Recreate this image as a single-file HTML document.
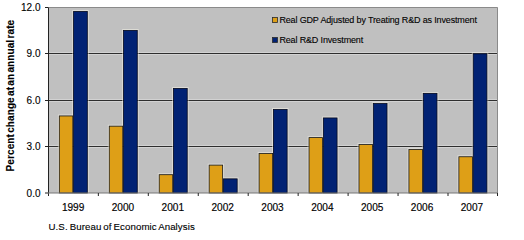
<!DOCTYPE html>
<html><head><meta charset="utf-8"><style>
html,body{margin:0;padding:0;background:#fff;width:524px;height:239px;overflow:hidden}
svg{display:block}
text{font-family:"Liberation Sans",sans-serif;fill:#000}
.lab{font-size:10px}
.yax{font-size:10px;stroke:#000;stroke-width:0.12px}
.leg{font-size:9px;letter-spacing:-0.15px;stroke:#000;stroke-width:0.1px}
.src{font-size:9.7px;letter-spacing:0.08px;word-spacing:-0.8px;stroke:#000;stroke-width:0.12px}
.yl{font-size:10.1px;stroke:#000;stroke-width:0.15px}
.title{font-size:10px;font-weight:bold;letter-spacing:0.09px;word-spacing:-1.6px;stroke:#000;stroke-width:0.1px}
</style></head><body>
<svg width="524" height="239" viewBox="0 0 524 239">
<rect x="48" y="7.5" width="450" height="185.5" fill="#C0C0C0"/>
<path d="M48 7.5H497.5V193" fill="none" stroke="#8a8a8a" stroke-width="1"/>
<line x1="48" y1="52.5" x2="497" y2="52.5" stroke="#d2d2d2" stroke-width="1"/>
<line x1="48" y1="54.5" x2="497" y2="54.5" stroke="#d2d2d2" stroke-width="1"/>
<line x1="48" y1="53.5" x2="497" y2="53.5" stroke="#2e2e2e" stroke-width="1"/>
<line x1="48" y1="99.5" x2="497" y2="99.5" stroke="#d2d2d2" stroke-width="1"/>
<line x1="48" y1="101.5" x2="497" y2="101.5" stroke="#d2d2d2" stroke-width="1"/>
<line x1="48" y1="100.5" x2="497" y2="100.5" stroke="#2e2e2e" stroke-width="1"/>
<line x1="48" y1="145.5" x2="497" y2="145.5" stroke="#d2d2d2" stroke-width="1"/>
<line x1="48" y1="147.5" x2="497" y2="147.5" stroke="#d2d2d2" stroke-width="1"/>
<line x1="48" y1="146.5" x2="497" y2="146.5" stroke="#2e2e2e" stroke-width="1"/>
<rect x="58.4" y="115.05" width="15.3" height="77.95" fill="none" stroke="#f4f0e4" stroke-opacity="0.6" stroke-width="1"/>
<rect x="72.7" y="10.56" width="15.5" height="182.44" fill="none" stroke="#f4f0e4" stroke-opacity="0.6" stroke-width="1"/>
<rect x="59.3" y="115.95" width="13.5" height="77.05" fill="#DE9F17" stroke="#1a1a1a" stroke-width="0.8"/>
<rect x="73.6" y="11.46" width="13.7" height="181.54" fill="#012274" stroke="#050a20" stroke-width="0.8"/>
<rect x="108.35" y="125.26" width="15.3" height="67.74" fill="none" stroke="#f4f0e4" stroke-opacity="0.6" stroke-width="1"/>
<rect x="122.65" y="29.57" width="15.5" height="163.43" fill="none" stroke="#f4f0e4" stroke-opacity="0.6" stroke-width="1"/>
<rect x="109.25" y="126.16" width="13.5" height="66.84" fill="#DE9F17" stroke="#1a1a1a" stroke-width="0.8"/>
<rect x="123.55" y="30.47" width="13.7" height="162.53" fill="#012274" stroke="#050a20" stroke-width="0.8"/>
<rect x="158.3" y="173.8" width="15.3" height="19.2" fill="none" stroke="#f4f0e4" stroke-opacity="0.6" stroke-width="1"/>
<rect x="172.6" y="87.54" width="15.5" height="105.46" fill="none" stroke="#f4f0e4" stroke-opacity="0.6" stroke-width="1"/>
<rect x="159.2" y="174.7" width="13.5" height="18.3" fill="#DE9F17" stroke="#1a1a1a" stroke-width="0.8"/>
<rect x="173.5" y="88.44" width="13.7" height="104.56" fill="#012274" stroke="#050a20" stroke-width="0.8"/>
<rect x="208.25" y="164.21" width="15.3" height="28.79" fill="none" stroke="#f4f0e4" stroke-opacity="0.6" stroke-width="1"/>
<rect x="222.55" y="177.97" width="15.5" height="15.03" fill="none" stroke="#f4f0e4" stroke-opacity="0.6" stroke-width="1"/>
<rect x="209.15" y="165.11" width="13.5" height="27.89" fill="#DE9F17" stroke="#1a1a1a" stroke-width="0.8"/>
<rect x="223.45" y="178.87" width="13.7" height="14.13" fill="#012274" stroke="#050a20" stroke-width="0.8"/>
<rect x="258.2" y="152.62" width="15.3" height="40.38" fill="none" stroke="#f4f0e4" stroke-opacity="0.6" stroke-width="1"/>
<rect x="272.5" y="108.56" width="15.5" height="84.44" fill="none" stroke="#f4f0e4" stroke-opacity="0.6" stroke-width="1"/>
<rect x="259.1" y="153.52" width="13.5" height="39.48" fill="#DE9F17" stroke="#1a1a1a" stroke-width="0.8"/>
<rect x="273.4" y="109.46" width="13.7" height="83.54" fill="#012274" stroke="#050a20" stroke-width="0.8"/>
<rect x="308.15" y="136.7" width="15.3" height="56.3" fill="none" stroke="#f4f0e4" stroke-opacity="0.6" stroke-width="1"/>
<rect x="322.45" y="117.06" width="15.5" height="75.94" fill="none" stroke="#f4f0e4" stroke-opacity="0.6" stroke-width="1"/>
<rect x="309.05" y="137.6" width="13.5" height="55.4" fill="#DE9F17" stroke="#1a1a1a" stroke-width="0.8"/>
<rect x="323.35" y="117.96" width="13.7" height="75.04" fill="#012274" stroke="#050a20" stroke-width="0.8"/>
<rect x="358.1" y="143.65" width="15.3" height="49.35" fill="none" stroke="#f4f0e4" stroke-opacity="0.6" stroke-width="1"/>
<rect x="372.4" y="102.69" width="15.5" height="90.31" fill="none" stroke="#f4f0e4" stroke-opacity="0.6" stroke-width="1"/>
<rect x="359.0" y="144.55" width="13.5" height="48.45" fill="#DE9F17" stroke="#1a1a1a" stroke-width="0.8"/>
<rect x="373.3" y="103.59" width="13.7" height="89.41" fill="#012274" stroke="#050a20" stroke-width="0.8"/>
<rect x="408.05" y="148.6" width="15.3" height="44.4" fill="none" stroke="#f4f0e4" stroke-opacity="0.6" stroke-width="1"/>
<rect x="422.35" y="92.48" width="15.5" height="100.52" fill="none" stroke="#f4f0e4" stroke-opacity="0.6" stroke-width="1"/>
<rect x="408.95" y="149.5" width="13.5" height="43.5" fill="#DE9F17" stroke="#1a1a1a" stroke-width="0.8"/>
<rect x="423.25" y="93.38" width="13.7" height="99.62" fill="#012274" stroke="#050a20" stroke-width="0.8"/>
<rect x="458.0" y="155.86" width="15.3" height="37.14" fill="none" stroke="#f4f0e4" stroke-opacity="0.6" stroke-width="1"/>
<rect x="472.3" y="52.91" width="15.5" height="140.09" fill="none" stroke="#f4f0e4" stroke-opacity="0.6" stroke-width="1"/>
<rect x="458.9" y="156.76" width="13.5" height="36.24" fill="#DE9F17" stroke="#1a1a1a" stroke-width="0.8"/>
<rect x="473.2" y="53.81" width="13.7" height="139.19" fill="#012274" stroke="#050a20" stroke-width="0.8"/>
<line x1="48.5" y1="7.5" x2="48.5" y2="196" stroke="#222" stroke-width="1"/>
<line x1="48" y1="193" x2="498" y2="193" stroke="#777" stroke-width="1.2"/>
<line x1="45" y1="193" x2="48" y2="193" stroke="#222" stroke-width="1"/>
<text x="40.5" y="196.6" text-anchor="end" class="lab yax">0.0</text>
<line x1="45" y1="146.5" x2="48" y2="146.5" stroke="#222" stroke-width="1"/>
<text x="40.5" y="150.1" text-anchor="end" class="lab yax">3.0</text>
<line x1="45" y1="100.5" x2="48" y2="100.5" stroke="#222" stroke-width="1"/>
<text x="40.5" y="104.1" text-anchor="end" class="lab yax">6.0</text>
<line x1="45" y1="53.5" x2="48" y2="53.5" stroke="#222" stroke-width="1"/>
<text x="40.5" y="57.1" text-anchor="end" class="lab yax">9.0</text>
<line x1="45" y1="7.5" x2="48" y2="7.5" stroke="#222" stroke-width="1"/>
<text x="40.5" y="11.1" text-anchor="end" class="lab yax">12.0</text>
<line x1="98.35" y1="193" x2="98.35" y2="196" stroke="#222" stroke-width="1"/>
<line x1="148.3" y1="193" x2="148.3" y2="196" stroke="#222" stroke-width="1"/>
<line x1="198.25" y1="193" x2="198.25" y2="196" stroke="#222" stroke-width="1"/>
<line x1="248.2" y1="193" x2="248.2" y2="196" stroke="#222" stroke-width="1"/>
<line x1="298.15" y1="193" x2="298.15" y2="196" stroke="#222" stroke-width="1"/>
<line x1="348.1" y1="193" x2="348.1" y2="196" stroke="#222" stroke-width="1"/>
<line x1="398.05" y1="193" x2="398.05" y2="196" stroke="#222" stroke-width="1"/>
<line x1="448.0" y1="193" x2="448.0" y2="196" stroke="#222" stroke-width="1"/>
<line x1="497.5" y1="193" x2="497.5" y2="196" stroke="#222" stroke-width="1"/>
<text x="73.12" y="210.9" text-anchor="middle" class="lab yl">1999</text>
<text x="122.98" y="210.9" text-anchor="middle" class="lab yl">2000</text>
<text x="172.82" y="210.9" text-anchor="middle" class="lab yl">2001</text>
<text x="222.68" y="210.9" text-anchor="middle" class="lab yl">2002</text>
<text x="272.53" y="210.9" text-anchor="middle" class="lab yl">2003</text>
<text x="322.38" y="210.9" text-anchor="middle" class="lab yl">2004</text>
<text x="372.23" y="210.9" text-anchor="middle" class="lab yl">2005</text>
<text x="422.07" y="210.9" text-anchor="middle" class="lab yl">2006</text>
<text x="471.93" y="210.9" text-anchor="middle" class="lab yl">2007</text>
<text transform="translate(13.6 95.6) rotate(-90)" text-anchor="middle" class="title">Percent change at an annual rate</text>
<text x="48.5" y="230.1" class="src">U.S. Bureau of Economic Analysis</text>
<rect x="272.5" y="17.5" width="5" height="5" fill="#DE9F17" stroke="#2a2a2a" stroke-width="0.8"/>
<text x="279.4" y="23.2" class="leg">Real GDP Adjusted by Treating R&amp;D as Investment</text>
<rect x="272.5" y="37.5" width="5" height="5" fill="#012274" stroke="#2a2a2a" stroke-width="0.8"/>
<text x="279.4" y="43.2" class="leg">Real R&amp;D Investment</text>
</svg>
</body></html>
